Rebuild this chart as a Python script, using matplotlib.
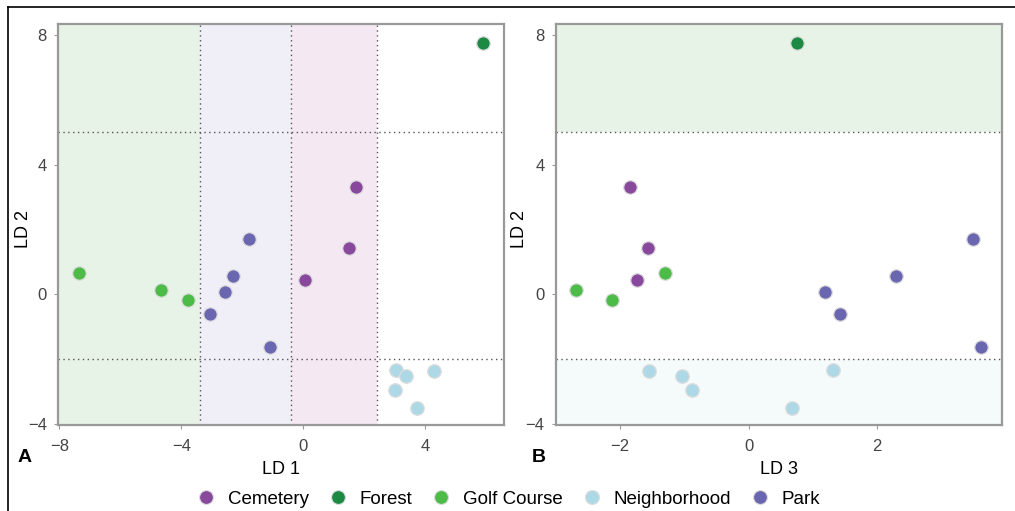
import matplotlib
matplotlib.use("Agg")
import matplotlib.pyplot as plt
from matplotlib.lines import Line2D

plt.rcParams['font.family'] = ['Liberation Sans', 'DejaVu Sans']

# site types and their colours
groups = ["Cemetery", "Forest", "Golf Course", "Neighborhood", "Park"]
colores = ["#88499d", "#1d8a44", "#4cbb47", "#add8e6", "#6b66b0"]

# discriminant scores
grupo = ["Cemetery", "Cemetery", "Cemetery",
         "Forest",
         "Golf Course", "Golf Course", "Golf Course",
         "Neighborhood", "Neighborhood", "Neighborhood", "Neighborhood", "Neighborhood",
         "Park", "Park", "Park", "Park", "Park"]
ld1 = [1.73, 1.50, 0.07,
       5.91,
       -7.36, -4.66, -3.78,
       3.04, 3.37, 4.30, 3.01, 3.76,
       -1.77, -2.30, -2.55, -3.06, -1.07]
ld2 = [3.32, 1.42, 0.43,
       7.76,
       0.66, 0.12, -0.17,
       -2.32, -2.52, -2.37, -2.96, -3.51,
       1.72, 0.57, 0.06, -0.61, -1.62]
ld3 = [-1.85, -1.57, -1.74,
       0.75,
       -1.30, -2.68, -2.13,
       1.32, -1.03, -1.55, -0.88, 0.67,
       3.49, 2.30, 1.19, 1.42, 3.62]

# decision boundaries
cortes_ld1 = [-3.39, -0.38, 2.42]
cortes_ld2 = [5.0, -2.0]

fig = plt.figure(figsize=(10.15, 5.11), dpi=100)
ax1 = fig.add_axes([0.0571, 0.1683, 0.4394, 0.7847])
ax2 = fig.add_axes([0.5475, 0.1683, 0.4394, 0.7847])

def estilo(ax):
    for s in ax.spines.values():
        s.set_color("#999999")
        s.set_linewidth(1.6)
    ax.tick_params(colors="#999999", labelcolor="#444444", labelsize=12,
                   length=3, width=0.8, pad=5)
    ax.tick_params(axis="x", pad=7)
    ax.set_yticks([-4, 0, 4, 8])
    ax.set_ylim(-4.03, 8.34)

def puntos(ax, xs):
    for g, c in zip(groups, colores):
        xx = [x for x, gg in zip(xs, grupo) if gg == g]
        yy = [y for y, gg in zip(ld2, grupo) if gg == g]
        ax.scatter(xx, yy, s=95, color=c, edgecolor="#dddddd", linewidth=0.9, zorder=3)

# panel A
ax1.set_xlim(-8.05, 6.6)
ax1.axvspan(-8.05, cortes_ld1[0], color="#e8f3e8", lw=0, zorder=0)
ax1.axvspan(cortes_ld1[0], cortes_ld1[1], color="#f0eff7", lw=0, zorder=0)
ax1.axvspan(cortes_ld1[1], cortes_ld1[2], color="#f4e8f3", lw=0, zorder=0)
for v in cortes_ld1:
    ax1.axvline(v, color="#555555", ls=(0, (1, 2.5)), lw=1, zorder=1)
for h in cortes_ld2:
    ax1.axhline(h, color="#555555", ls=(0, (1, 2.5)), lw=1, zorder=1)
puntos(ax1, ld1)
ax1.set_xticks([-8, -4, 0, 4])
estilo(ax1)
ax1.set_xlabel("LD 1", fontsize=13, labelpad=5)
ax1.set_ylabel("LD 2", fontsize=13)
ax1.yaxis.set_label_coords(-0.058, 0.49)

# panel B
ax2.set_xlim(-3.0, 3.94)
ax2.axhspan(cortes_ld2[0], 8.34, color="#e8f3e8", lw=0, zorder=0)
ax2.axhspan(-4.03, cortes_ld2[1], color="#f5fafb", lw=0, zorder=0)
for h in cortes_ld2:
    ax2.axhline(h, color="#555555", ls=(0, (1, 2.5)), lw=1, zorder=1)
puntos(ax2, ld3)
ax2.set_xticks([-2, 0, 2])
estilo(ax2)
ax2.set_xlabel("LD 3", fontsize=13, labelpad=5)
ax2.set_ylabel("LD 2", fontsize=13)
ax2.yaxis.set_label_coords(-0.062, 0.49)

fig.text(25 / 1015, 1 - 457 / 511, "A", fontsize=14, fontweight="bold", ha="center", va="center")
fig.text(539 / 1015, 1 - 457 / 511, "B", fontsize=14, fontweight="bold", ha="center", va="center")

# legend
handles = [Line2D([], [], marker="o", ls="", markersize=10, markerfacecolor=c,
                  markeredgecolor="#dddddd", markeredgewidth=0.8) for c in colores]
fig.legend(handles, groups, loc="center", bbox_to_anchor=(0.5, 1 - 499 / 511),
           ncol=5, frameon=False, fontsize=13.5, handletextpad=0.55, columnspacing=0.95,
           handlelength=1.2)

# outer frame lines
fig.add_artist(Line2D([8 / 1015, 1], [1 - 7 / 511, 1 - 7 / 511], color="black", lw=1.2))
fig.add_artist(Line2D([8 / 1015, 8 / 1015], [0, 1 - 7 / 511], color="black", lw=1.2))

fig.savefig("out.png", dpi=100)
